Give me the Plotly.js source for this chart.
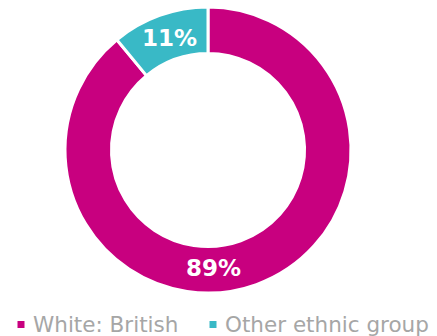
<!DOCTYPE html>
<html>
<head>
<meta charset="utf-8">
<script src="https://cdn.plot.ly/plotly-3.0.1.min.js"></script>
<style>html,body{margin:0;padding:0;background:#fff;}#chart{width:437px;height:336px;}</style>
</head>
<body>
<div id="chart"></div>
<script>
const categories = ['White: British', 'Other ethnic group'];
const values = [89, 11];
const colors = ['#C8007F', '#39B9C6'];

const W = 437, H = 336;
const cx = 208, cy = 150, R = 143;

const trace = {
  type: 'pie',
  labels: categories,
  values: values,
  sort: false,
  direction: 'clockwise',
  rotation: 0,
  hole: 0.675,
  marker: { colors: colors, line: { color: '#ffffff', width: 3 } },
  textinfo: 'none',
  domain: { x: [(cx - R) / W, (cx + R) / W], y: [1 - (cy + R) / H, 1 - (cy - R) / H] },
  showlegend: false,
  hoverinfo: 'none'
};

const annotations = [];
const shapes = [];
// percentage labels
const labelPos = [[213, 268], [169, 38]];
values.forEach((v, i) => {
  annotations.push({
    xref: 'paper', yref: 'paper', x: labelPos[i][0] / W, y: 1 - labelPos[i][1] / H,
    text: '<b>' + v + '%</b>', showarrow: false,
    font: { family: 'DejaVu Sans', size: 23, color: '#ffffff' },
    xanchor: 'center', yanchor: 'middle'
  });
});
// custom legend
const legendX = [21, 213];
categories.forEach((c, i) => {
  const x0 = legendX[i];
  shapes.push({
    type: 'rect', xref: 'paper', yref: 'paper',
    x0: (x0 - 3.5) / W, x1: (x0 + 3.5) / W,
    y0: 1 - 328 / H, y1: 1 - 321 / H,
    fillcolor: colors[i], line: { width: 0 }
  });
  annotations.push({
    xref: 'paper', yref: 'paper', x: (x0 + 10) / W, y: 1 - 324 / H,
    text: c, showarrow: false,
    font: { family: 'DejaVu Sans', size: 21.5, color: '#A6A6A6' },
    xanchor: 'left', yanchor: 'middle'
  });
});

const layout = {
  width: W, height: H,
  margin: { l: 0, r: 0, t: 0, b: 0 },
  paper_bgcolor: '#ffffff',
  showlegend: false,
  annotations: annotations,
  shapes: shapes
};

Plotly.newPlot('chart', [trace], layout, { displayModeBar: false, staticPlot: true });
</script>
</body>
</html>
